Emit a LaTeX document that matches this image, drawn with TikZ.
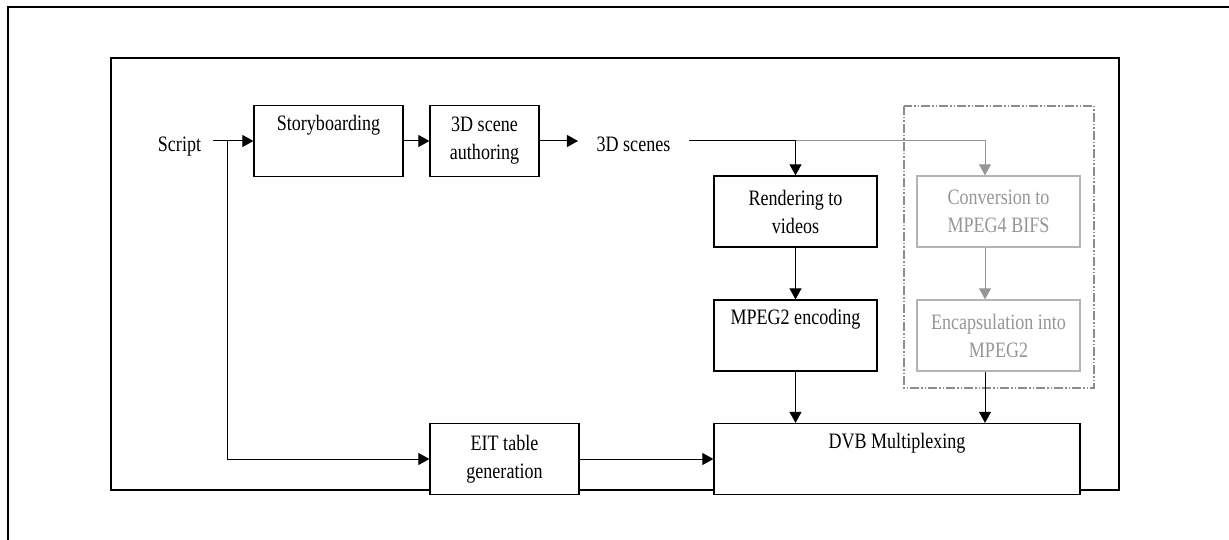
\documentclass[tikz,border=0pt]{standalone}
\usepackage{fontspec}
\setmainfont{Liberation Serif}[FakeStretch=0.82]
\usetikzlibrary{arrows.meta}

\definecolor{greytext}{RGB}{150,150,150}
\definecolor{greyline}{RGB}{180,180,180}
\definecolor{greydash}{RGB}{140,140,140}

\tikzset{
  blk/.style={draw, fill=white, line width=1.3pt, inner sep=0pt, minimum width=#1,
    minimum height=71pt, align=center},
  greyblk/.style={blk=#1, draw=greyline, text=greytext},
  txt/.style={inner ysep=0pt, inner xsep=12pt, anchor=base},
  arr/.style={-{Triangle[length=11pt,width=12pt]}, line width=1pt},
  greyarr/.style={arr, greytext},
  dashbox/.style={draw=greydash, line width=1.2pt,
    dash pattern=on 9pt off 2pt on 1.5pt off 2pt on 1.5pt off 2pt}
}

\begin{document}
\begin{tikzpicture}[x=1pt, y=-1pt, font=\fontsize{22}{28}\selectfont]
  \useasboundingbox (0,0) rectangle (1229,540);
  % frames
  \draw[line width=2pt] (8,545) -- (8,7) -- (1235,7);
  \draw[line width=1.4pt] (111,58) rectangle (1119,490);
  \draw[dashbox] (904,106) rectangle (1094,388);

  \node[txt] (script) at (179.5,152) {Script};
  \node[txt, inner xsep=18.5pt] (scenes) at (633.5,152) {3D scenes};

  \node[blk=149pt] (sb) at (328.5,141) {Storyboarding\\ \strut};
  \node[blk=109pt] (sa) at (484.5,141) {3D scene\\authoring};
  \node[blk=163pt] (rend) at (795.5,211.5) {Rendering to\\videos};
  \node[blk=163pt] (mpeg) at (795.5,335.5) {MPEG2 encoding\\ \strut};
  \node[greyblk=163pt] (conv) at (998.5,211.5) {Conversion to\\MPEG4 BIFS};
  \node[greyblk=163pt] (encap) at (998.5,335.5) {Encapsulation into\\MPEG2};
  \node[blk=149pt] (eit) at (504.5,459) {EIT table\\generation};
  \node[blk=366pt] (dvb) at (897,459) {DVB Multiplexing\\ \strut};

  \coordinate (split) at (227,141);
  \coordinate (fork) at (795.5,141);
  \coordinate (gfork) at (985,141);

  % connectors
  \draw[arr] (script.east |- split) -- (sb.west);
  \draw[arr] (split) |- (eit.west);
  \draw[arr] (sb) -- (sa);
  \draw[arr] (sa.east) -- (scenes.west |- sa.east);
  \draw[greyarr] (fork) -- (gfork) -- (gfork |- conv.north);
  \draw[arr] (scenes.east |- fork) -- (fork) -- (rend.north);
  \draw[arr] (rend) -- (mpeg);
  \draw[arr] (mpeg) -- (dvb.north -| mpeg);
  \draw[greyarr] (gfork |- conv.south) -- (gfork |- encap.north);
  \draw[arr] (gfork |- encap.south) -- (gfork |- dvb.north);
  \draw[arr] (eit) -- (dvb);
\end{tikzpicture}
\end{document}
